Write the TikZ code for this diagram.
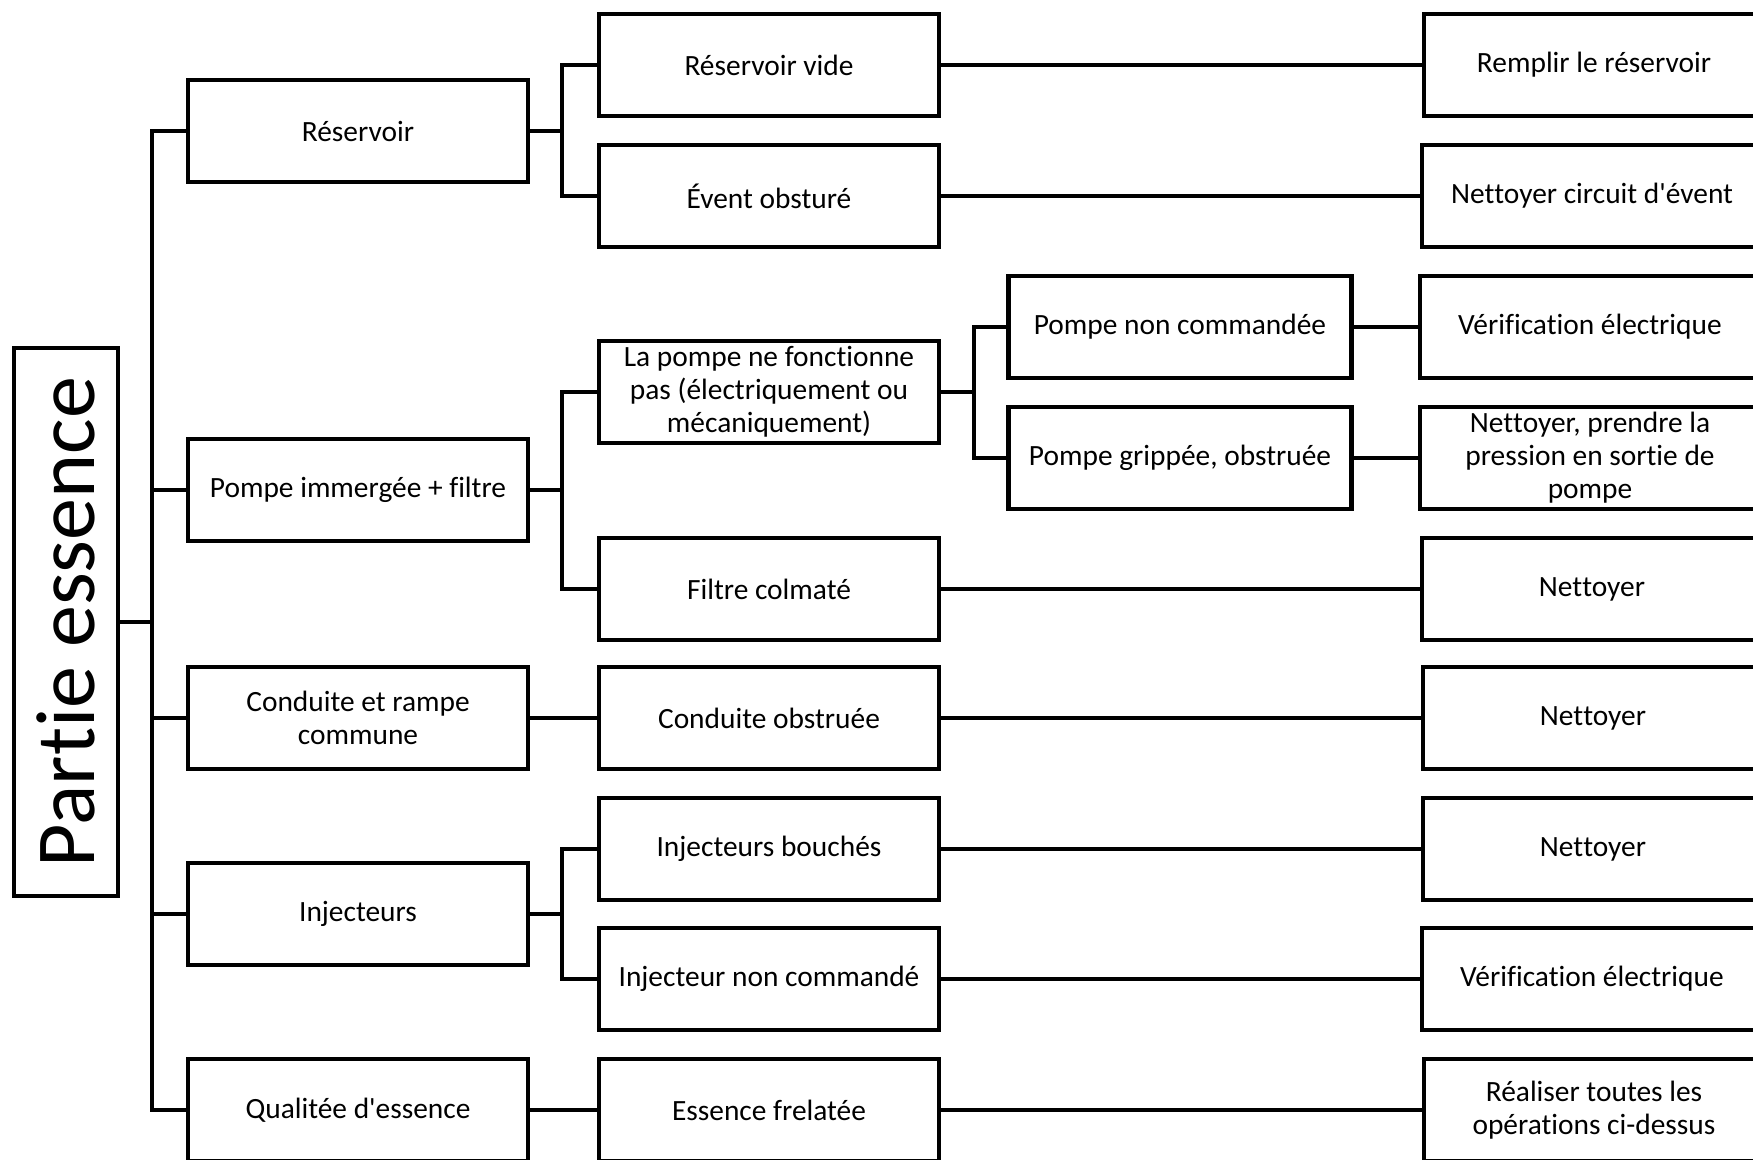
\documentclass[tikz,border=0pt]{standalone}
\usepackage{fontspec}
\setmainfont{Carlito}[Ligatures={TeXOff,NoCommon}]
\newcommand{\nl}{\kern0pt{}}
\begin{document}
\begin{tikzpicture}[x=0.5pt,y=-0.5pt,line width=2.3pt,line join=miter,
  box/.style={draw,line width=2.3pt,minimum width=170pt,minimum height=51pt,inner sep=0pt,align=center,font=\fontsize{14.7}{16.5}\selectfont},
  wbox/.style={box,minimum width=171.5pt},
  title/.style={draw,line width=2.3pt,rotate=90,minimum width=274pt,minimum height=52pt,inner sep=0pt,font=\fontsize{42}{46}\selectfont}]
\clip (0,0) rectangle (1753,1160);
\useasboundingbox (0,0) rectangle (1753,1160);
% title
\node[title] (pe) at (66,622) {Part\nl ie essence};
% column 1
\node[box] (c1a) at (358,131) {Réservoir};
\node[box] (c1b) at (358,490) {Pompe immergée + f\nl iltre};
\node[box] (c1c) at (358,718) {Conduite et rampe\\commune};
\node[box] (c1d) at (358,914) {Injecteurs};
\node[box] (c1e) at (358,1110) {Qualitée d'essence};
% column 2
\node[box] (c2a) at (769,65) {Réservoir vide};
\node[box] (c2b) at (769,196) {Évent obsturé};
\node[box] (c2c) at (769,392) {La pompe ne fonct\nl ionne\\pas (électriquement ou\\mécaniquement)};
\node[box] (c2d) at (769,589) {F\nl iltre colmaté};
\node[box] (c2e) at (769,718) {Conduite obstruée};
\node[box] (c2f) at (769,849) {Injecteurs bouchés};
\node[box] (c2g) at (769,979) {Injecteur non commandé};
\node[box] (c2h) at (769,1110) {Essence frelatée};
% column 3
\node[wbox] (c3a) at (1180,327) {Pompe non commandée};
\node[wbox] (c3b) at (1180,458) {Pompe grippée, obstruée};
% column 4
\node[box] (c4a) at (1594,65) {Remplir le réservoir};
\node[box] (c4b) at (1592,196) {Net\nl toyer circuit d'évent};
\node[box] (c4c) at (1590,327) {Vérif\nl icat\nl ion électrique};
\node[box] (c4d) at (1590,458) {Net\nl toyer, prendre la\\pression en sort\nl ie de\\pompe};
\node[box] (c4e) at (1592,589) {Net\nl toyer};
\node[box] (c4f) at (1593,718) {Net\nl toyer};
\node[box] (c4g) at (1593,849) {Net\nl toyer};
\node[box] (c4h) at (1592,979) {Vérif\nl icat\nl ion électrique};
\node[box] (c4i) at (1594,1110) {Réaliser toutes les\\opérat\nl ions ci-dessus};
% bracket coordinates
\coordinate (t0) at (152,0);
\coordinate (t1) at (562,0);
\coordinate (t2) at (974,0);
% trunk
\draw (pe.south) -- (pe.south -| t0);
\draw (c1a.west) -- (c1a.west -| t0) -- (c1e.west -| t0) -- (c1e.west);
\draw (c1b.west) -- (c1b.west -| t0);
\draw (c1c.west) -- (c1c.west -| t0);
\draw (c1d.west) -- (c1d.west -| t0);
% col1 -> col2
\draw (c2a.west) -- (c2a.west -| t1) -- (c2b.west -| t1) -- (c2b.west);
\draw (c1a.east) -- (c1a.east -| t1);
\draw (c2c.west) -- (c2c.west -| t1) -- (c2d.west -| t1) -- (c2d.west);
\draw (c1b.east) -- (c1b.east -| t1);
\draw (c1c.east) -- (c2e.west);
\draw (c2f.west) -- (c2f.west -| t1) -- (c2g.west -| t1) -- (c2g.west);
\draw (c1d.east) -- (c1d.east -| t1);
\draw (c1e.east) -- (c2h.west);
% col2 -> col3
\draw (c3a.west) -- (c3a.west -| t2) -- (c3b.west -| t2) -- (c3b.west);
\draw (c2c.east) -- (c2c.east -| t2);
% to col4
\draw (c2a.east) -- (c4a.west);
\draw (c2b.east) -- (c4b.west);
\draw (c3a.east) -- (c4c.west);
\draw (c3b.east) -- (c4d.west);
\draw (c2d.east) -- (c4e.west);
\draw (c2e.east) -- (c4f.west);
\draw (c2f.east) -- (c4g.west);
\draw (c2g.east) -- (c4h.west);
\draw (c2h.east) -- (c4i.west);
\end{tikzpicture}
\end{document}
